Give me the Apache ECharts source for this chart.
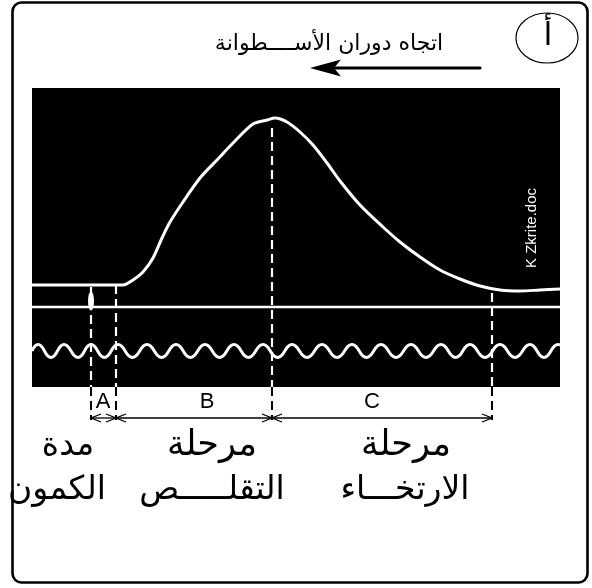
<!DOCTYPE html>
<html>
<head>
<meta charset="utf-8">
<script src="https://cdn.jsdelivr.net/npm/echarts@6/dist/echarts.min.js"></script>
<style>
    html, body { margin: 0; padding: 0; background: #fff; }
    #chart { width: 592px; height: 588px; }
</style>
</head>
<body>
<div id="chart"></div>
<script>
// منحنى الانقباض (وحدات الاسطوانة: x بالمم على طول الورقة، y بالمم ارتفاع)
var curveX = [0, 22.75, 25.25, 27.75, 30.25, 32.5, 34.5, 37.75, 42, 46.25, 50.25, 55.25, 58.75, 60.75, 63.75, 67, 70.25, 73.75, 77, 82, 87.75, 92, 97, 102, 107, 112, 117, 122, 127, 132];
var curveY = [25.5, 25.5, 26.75, 28.75, 32.25, 37.25, 41.25, 46.25, 52.25, 56.75, 61, 65.75, 66.75, 67.25, 66.25, 63.75, 60.5, 56, 51.5, 45.5, 40, 36.25, 32.5, 29.25, 27, 25.25, 24.25, 24, 24.25, 24.5];

// خط المنبه
var signalY = 20;
var stimulusX = 14.75;
var stimulusY = 21.5;

// مؤقت الزمن (الخط المتموج)
var waveX = [0, 1.5, 4.75, 8, 11.5, 14.75, 18.1, 21.5, 25.1, 28.75, 32.4, 36, 39.6, 43.25, 46.9, 50.5, 54.1, 57.75, 61.4, 65, 68.75, 72.5, 76.25, 80, 83.6, 87.25, 91, 94.75, 98.5, 102.25, 105.9, 109.5, 113.25, 117, 120.75, 124.5, 128, 131.5, 132];
var waveY = [9, 10.6, 7.4, 10.6, 7.4, 10.6, 7.4, 10.6, 7.4, 10.6, 7.4, 10.6, 7.4, 10.6, 7.4, 10.6, 7.4, 10.6, 7.4, 10.6, 7.4, 10.6, 7.4, 10.6, 7.4, 10.6, 7.4, 10.6, 7.4, 10.6, 7.4, 10.6, 7.4, 10.6, 7.4, 10.6, 7.4, 10.6, 10.5];

// الخطوط المتقطعة
var markX = [14.75, 21, 60, 115];
var markTop = [25, 25.5, 64.75, 23.5];

// المراحل A B C
var phaseStart = [14.75, 21, 60];
var phaseEnd = [21, 60, 115];
var phaseName = ['A', 'B', 'C'];
var phaseLabelX = [17.75, 43.75, 85];

var dimY = -7.75;
var dimBottom = -8.25;
var letterY = -3.7;

var myChart = echarts.init(document.getElementById('chart'));

var zip = function(xs, ys) {
    return xs.map(function(x, i) { return [x, ys[i]]; });
};

var arabicFont = '"DejaVu Sans", sans-serif';

var option = {
    animation: false,
    backgroundColor: '#fff',
    grid: {
        left: 32,
        top: 88,
        width: 528,
        height: 299,
        show: true,
        backgroundColor: '#000',
        borderWidth: 0
    },
    xAxis: { type: 'value', min: 0, max: 132, show: false },
    yAxis: { type: 'value', min: 0, max: 74.75, show: false },
    series: [
        {
            name: 'curve',
            type: 'line',
            data: zip(curveX, curveY),
            symbol: 'none',
            smooth: 0.3,
            lineStyle: { color: '#fff', width: 3 },
            z: 5
        },
        {
            name: 'signal',
            type: 'line',
            data: [[0, signalY], [132, signalY]],
            symbol: 'none',
            lineStyle: { color: '#fff', width: 2.5 },
            z: 5
        },
        {
            name: 'timer',
            type: 'line',
            data: zip(waveX, waveY),
            symbol: 'none',
            smooth: 0.5,
            lineStyle: { color: '#fff', width: 3 },
            z: 5
        },
        {
            name: 'marks',
            type: 'custom',
            data: zip(markX, markTop),
            z: 4,
            renderItem: function(params, api) {
                var x = api.value(0), top = api.value(1);
                var p1 = api.coord([x, top]);
                var p0 = api.coord([x, 0]);
                var pb = api.coord([x, dimBottom]);
                return {
                    type: 'group',
                    children: [
                        { type: 'line', shape: { x1: p1[0], y1: p1[1], x2: p0[0], y2: p0[1] },
                          style: { stroke: '#fff', lineWidth: 2.2, lineDash: [9, 5] } },
                        { type: 'line', shape: { x1: p0[0], y1: p0[1], x2: pb[0], y2: pb[1] },
                          style: { stroke: '#000', lineWidth: 2, lineDash: [9, 5] } }
                    ]
                };
            }
        },
        {
            name: 'stimulus',
            type: 'scatter',
            data: [[stimulusX, stimulusY]],
            symbol: 'circle',
            symbolSize: [6, 19],
            itemStyle: { color: '#fff', opacity: 1 },
            z: 6
        },
        {
            name: 'phases',
            type: 'custom',
            data: phaseStart.map(function(s, i) { return [s, phaseEnd[i], phaseLabelX[i]]; }),
            z: 4,
            renderItem: function(params, api) {
                var a = api.coord([api.value(0), dimY]);
                var b = api.coord([api.value(1), dimY]);
                var t = api.coord([api.value(2), letterY]);
                var st = { stroke: '#000', lineWidth: 1.3, fill: null };
                return {
                    type: 'group',
                    children: [
                        { type: 'line', shape: { x1: a[0], y1: a[1], x2: b[0], y2: b[1] }, style: st },
                        { type: 'polyline', shape: { points: [[a[0] + 10, a[1] - 4], [a[0], a[1]], [a[0] + 10, a[1] + 4]] }, style: st },
                        { type: 'polyline', shape: { points: [[b[0] - 10, b[1] - 4], [b[0], b[1]], [b[0] - 10, b[1] + 4]] }, style: st },
                        { type: 'text', x: t[0], y: t[1],
                          style: { text: phaseName[params.dataIndex], fill: '#000', fontSize: 22,
                                   fontFamily: '"Liberation Sans", Arial, sans-serif',
                                   align: 'center', verticalAlign: 'middle' } }
                    ]
                };
            }
        }
    ],
    graphic: [
        { type: 'rect', shape: { x: 12.5, y: 2.5, width: 575, height: 580, r: 9 },
          style: { fill: null, stroke: '#000', lineWidth: 2.6 }, z: 10 },
        { type: 'ellipse', shape: { cx: 547, cy: 38, rx: 31, ry: 25 },
          style: { fill: null, stroke: '#000', lineWidth: 1.2 }, z: 10 },
        { type: 'text', x: 548, y: 37,
          style: { text: 'أ', font: '32px ' + arabicFont, fill: '#000', align: 'center', verticalAlign: 'middle' }, z: 10 },
        { type: 'text', x: 329, y: 44,
          style: { text: 'اتجاه دوران الأســــطوانة', font: '22px ' + arabicFont, fill: '#000', align: 'center', verticalAlign: 'middle' }, z: 10 },
        { type: 'line', shape: { x1: 480, y1: 68, x2: 330, y2: 68 },
          style: { stroke: '#000', lineWidth: 3.2, lineCap: 'round' }, z: 10 },
        { type: 'polygon', shape: { points: [[310, 68], [341, 59.5], [334, 68], [341, 76.5]] },
          style: { fill: '#000' }, z: 10 },
        { type: 'text', x: 532, y: 228, rotation: Math.PI / 2,
          style: { text: 'K Zkrite.doc', font: '15px "Liberation Sans", Arial, sans-serif', fill: '#fff', align: 'center', verticalAlign: 'middle' }, z: 10 },
        { type: 'text', x: 68, y: 446,
          style: { text: 'مدة', font: '33px ' + arabicFont, fill: '#000', align: 'center', verticalAlign: 'middle' }, z: 10 },
        { type: 'text', x: 212, y: 446,
          style: { text: 'مرحلة', font: '35px ' + arabicFont, fill: '#000', align: 'center', verticalAlign: 'middle' }, z: 10 },
        { type: 'text', x: 406, y: 446,
          style: { text: 'مرحلة', font: '35px ' + arabicFont, fill: '#000', align: 'center', verticalAlign: 'middle' }, z: 10 },
        { type: 'text', x: 57, y: 490,
          style: { text: 'الكمون', font: '33px ' + arabicFont, fill: '#000', align: 'center', verticalAlign: 'middle' }, z: 10 },
        { type: 'text', x: 212, y: 490,
          style: { text: 'التقلـــــص', font: '33px ' + arabicFont, fill: '#000', align: 'center', verticalAlign: 'middle' }, z: 10 },
        { type: 'text', x: 405, y: 490,
          style: { text: 'الارتخـــاء', font: '33px ' + arabicFont, fill: '#000', align: 'center', verticalAlign: 'middle' }, z: 10 }
    ]
};
myChart.setOption(option);
</script>
</body>
</html>
